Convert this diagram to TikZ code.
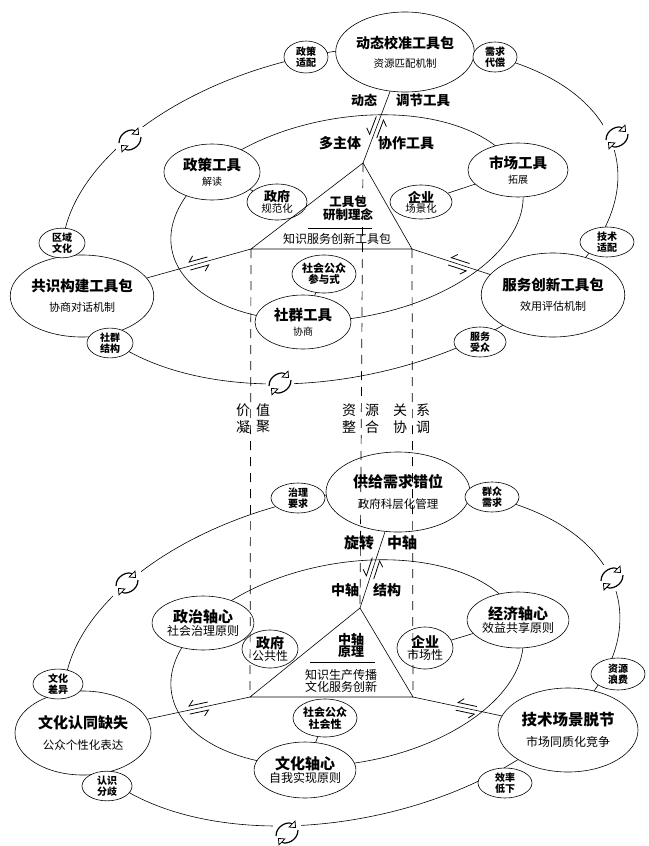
\documentclass[tikz,border=0pt]{standalone}
\usepackage{fontspec}
\setmainfont{Noto Sans CJK SC}
\usetikzlibrary{shapes.geometric,arrows.meta,decorations.markings,calc}
\newcommand{\myB}[2]{{\fontsize{#1}{#1}\selectfont\bfseries #2}}
\newcommand{\myR}[2]{{\fontsize{#1}{#1}\selectfont #2}}
\begin{document}
\begin{tikzpicture}[x=1pt,y=-1pt,
  ln/.style={line width=0.6pt},
  el/.style={ellipse,draw,line width=0.6pt,fill=white,inner sep=0pt,align=center,font=\fontsize{10}{10}\selectfont},
  sm/.style={el,font=\fontsize{10}{11.5}\selectfont\bfseries},
  txt/.style={inner sep=0pt,align=center},
  dsh/.style={line width=0.7pt,dash pattern=on 9pt off 7pt},
  harp/.style={postaction={decorate,decoration={markings,mark=at position #1 with {
     \draw[line width=0.8pt,-{Straight Barb[harpoon,swap,length=5pt,width=10pt]}] (10pt,4pt) -- (-10pt,4pt);
     \draw[line width=0.8pt,-{Straight Barb[harpoon,swap,length=5pt,width=10pt]}] (-10pt,-4pt) -- (10pt,-4pt);}}}},
  cycarr/.style={line width=1.2pt,-{Triangle[open,length=6pt,width=10pt,line width=0.8pt]}},
  cyc/.pic={
    \fill[white] (-14pt,-13pt) rectangle (14pt,13pt);
    \draw[cycarr] (-11pt,-3pt) .. controls (-11pt,8pt) and (2pt,12pt) .. (9pt,5pt);
    \draw[cycarr] (11pt,3pt) .. controls (11pt,-8pt) and (-2pt,-12pt) .. (-9pt,-5pt);
  }
]
\useasboundingbox (0,0) rectangle (648,846);
\fill[white] (0,0) rectangle (648,846);

% ===== rings =====
\draw[ln,rotate around={12:(340,215)}] (340,215) ellipse [x radius=282, y radius=162];
\draw[ln,rotate around={10:(347,218)}] (347,218) ellipse [x radius=178, y radius=100];
\draw[ln,rotate around={12:(342,657)}] (342,657) ellipse [x radius=282, y radius=162];
\draw[ln,rotate around={10:(347,663)}] (347,663) ellipse [x radius=178, y radius=100];

\pic at (130,140) {cyc};
\pic at (617,137) {cyc};
\pic at (280,383) {cyc};
\pic at (127,583) {cyc};
\pic at (612,578) {cyc};
\pic at (287,833) {cyc};

% ===== triangles =====
\coordinate (ta) at (363,163);
\coordinate (tl) at (251,249);
\coordinate (tr) at (412,249);
\coordinate (ba) at (360,608);
\coordinate (bl) at (250,697);
\coordinate (br) at (413,697);

% ===== top nodes =====
\node[el,minimum width=136pt,minimum height=80pt] (dtjz) at (405,52) {\myB{14}{动态校准工具包}\\[8pt]\myR{10.5}{资源匹配机制}};
\node[sm,minimum width=44pt,minimum height=32pt] (zcsp) at (306,57) {政策\\适配};
\node[sm,minimum width=44pt,minimum height=30pt] (xqdc) at (495,57) {需求\\代偿};
\node[el,minimum width=96pt,minimum height=56pt] (zcgj) at (212,172) {\myB{14.5}{政策工具}\\[5pt]\myR{10}{解读}};
\node[el,minimum width=60pt,minimum height=36pt] (zfgf) at (277,202) {\myB{13}{政府}\\\myR{10.5}{规范化}};
\node[el,minimum width=100pt,minimum height=54pt] (scgj) at (518,170) {\myB{14.5}{市场工具}\\[5pt]\myR{10}{拓展}};
\node[el,minimum width=62pt,minimum height=34pt] (qycj) at (421,202) {\myB{13}{企业}\\\myR{10.5}{场景化}};
\node[el,minimum width=96pt,minimum height=54pt] (sqgj) at (303,322) {\myB{14.5}{社群工具}\\[5pt]\myR{10}{协商}};
\node[el,minimum width=64pt,minimum height=38pt] (shgy) at (324,274) {\myB{11}{社会公众}\\\myB{10.5}{参与式}};
\node[el,minimum width=136pt,minimum height=82pt] (gsgj) at (82,296) {\myB{14.5}{共识构建工具包}\\[8pt]\myR{11}{协商对话机制}};
\node[sm,minimum width=46pt,minimum height=28pt] (qywh) at (62,243) {区域\\文化};
\node[sm,minimum width=46pt,minimum height=28pt] (sqjg) at (110,343) {社群\\结构};
\node[el,minimum width=140pt,minimum height=84pt] (fwcx) at (553,295) {\myB{14.5}{服务创新工具包}\\[8pt]\myR{11}{效用评估机制}};
\node[sm,minimum width=54pt,minimum height=30pt] (jssp) at (607,242) {技术\\适配};
\node[sm,minimum width=52pt,minimum height=30pt] (fwsz) at (480,342) {服务\\受众};

% ===== bottom nodes =====
\node[el,minimum width=144pt,minimum height=80pt] (gjxq) at (398,492) {\myB{15}{供给需求错位}\\[8pt]\myR{11.5}{政府科层化管理}};
\node[sm,minimum width=54pt,minimum height=30pt] (zlyq) at (298,498) {治理\\要求};
\node[sm,minimum width=54pt,minimum height=30pt] (qzxq) at (492,497) {群众\\需求};
\node[el,minimum width=98pt,minimum height=54pt] (zzzx) at (203,623) {\myB{15}{政治轴心}\\\myR{12}{社会治理原则}};
\node[el,minimum width=56pt,minimum height=38pt] (zfgx) at (270,649) {\myB{14}{政府}\\\myR{12}{公共性}};
\node[el,minimum width=56pt,minimum height=42pt] (qysx) at (425,648) {\myB{14}{企业}\\\myR{12}{市场性}};
\node[el,minimum width=100pt,minimum height=56pt] (jjzx) at (518,620) {\myB{15}{经济轴心}\\\myR{12}{效益共享原则}};
\node[el,minimum width=64pt,minimum height=38pt] (shgs) at (325,718) {\myB{11}{社会公众}\\\myB{11}{社会性}};
\node[el,minimum width=100pt,minimum height=56pt] (whzx) at (305,770) {\myB{15}{文化轴心}\\\myR{12}{自我实现原则}};
\node[el,minimum width=136pt,minimum height=84pt] (whrt) at (83,733) {\myB{15}{文化认同缺失}\\[8pt]\myR{11.5}{公众个性化表达}};
\node[sm,minimum width=50pt,minimum height=28pt] (whcy) at (58,684) {文化\\差异};
\node[sm,minimum width=50pt,minimum height=28pt] (rsfq) at (107,786) {认识\\分歧};
\node[el,minimum width=140pt,minimum height=84pt] (jscj) at (568,730) {\myB{15.5}{技术场景脱节}\\[8pt]\myR{12}{市场同质化竞争}};
\node[sm,minimum width=54pt,minimum height=32pt] (zylf) at (618,674) {资源\\浪费};
\node[sm,minimum width=54pt,minimum height=30pt] (xldx) at (505,783) {效率\\低下};

% ===== short links =====
\draw[ln] (zcgj) -- (zfgf);
\draw[ln] (scgj) -- (qycj);
\draw[ln] (shgy) -- (sqgj);
\draw[ln] (zzzx) -- (zfgx);
\draw[ln] (jjzx) -- (qysx);
\draw[ln] (shgs) -- (whzx);

% ===== triangles =====
\draw[ln] (ta) -- (tl) -- (tr) -- cycle;
\draw[ln] (ba) -- (bl) -- (br) -- cycle;
\node[txt] (tt1) at (348,208) {\myB{12.5}{工具包}\\\myB{12.5}{研制理念}};
\coordinate (tu1) at (308,228);
\coordinate (tu2) at (372,228);
\draw[ln] (tu1) -- (tu2);
\node[txt] (tt2) at (337,239) {\myR{12}{知识服务创新工具包}};
\node[txt] (bt1) at (351,646) {\myB{13}{中轴}\\\myB{13}{原理}};
\coordinate (bu1) at (310,662);
\coordinate (bu2) at (375,662);
\draw[ln] (bu1) -- (bu2);
\node[txt] (bt2) at (341,681) {\myR{12}{知识生产传播}\\\myR{12}{文化服务创新}};

% ===== connectors with harpoons =====
\draw[ln,harp=0.5] (ta) -- (dtjz);
\draw[ln,harp=0.5] (tl) -- (gsgj);
\draw[ln,harp=0.6] (tr) -- (fwcx);
\draw[ln,harp=0.52] (ba) -- (gjxq);
\draw[ln,harp=0.5] (bl) -- (whrt);
\draw[ln,harp=0.6] (br) -- (jscj);

% connector labels
\node[txt] (l1) at (364,100) {\myB{13}{动态}};
\node[txt] (l2) at (423,100) {\myB{13.5}{调节工具}};
\node[txt] (l3) at (340,143) {\myB{14}{多主体}};
\node[txt] (l4) at (406,143) {\myB{14}{协作工具}};
\node[txt] (l5) at (359,543) {\myB{15}{旋转}};
\node[txt] (l6) at (402,543) {\myB{15}{中轴}};
\node[txt] (l7) at (345,590) {\myB{14}{中轴}};
\node[txt] (l8) at (387,590) {\myB{14}{结构}};

% ===== dashed verticals =====
\draw[dsh] (tl) -- (bl);
\draw[dsh] (ta) -- (ba);
\draw[dsh] (tr) -- (br);

% middle labels
\node[txt] (m1) at (243,410) {\myR{14}{价}};
\node[txt] (m2) at (263,410) {\myR{14}{值}};
\node[txt] (m3) at (243,427) {\myR{14}{凝}};
\node[txt] (m4) at (263,427) {\myR{14}{聚}};
\node[txt] (m5) at (349,410) {\myR{14}{资}};
\node[txt] (m6) at (372,410) {\myR{14}{源}};
\node[txt] (m7) at (349,427) {\myR{14}{整}};
\node[txt] (m8) at (372,427) {\myR{14}{合}};
\node[txt] (m9) at (400,410) {\myR{14}{关}};
\node[txt] (m10) at (423,410) {\myR{14}{系}};
\node[txt] (m11) at (400,427) {\myR{14}{协}};
\node[txt] (m12) at (423,427) {\myR{14}{调}};
\end{tikzpicture}
\end{document}
